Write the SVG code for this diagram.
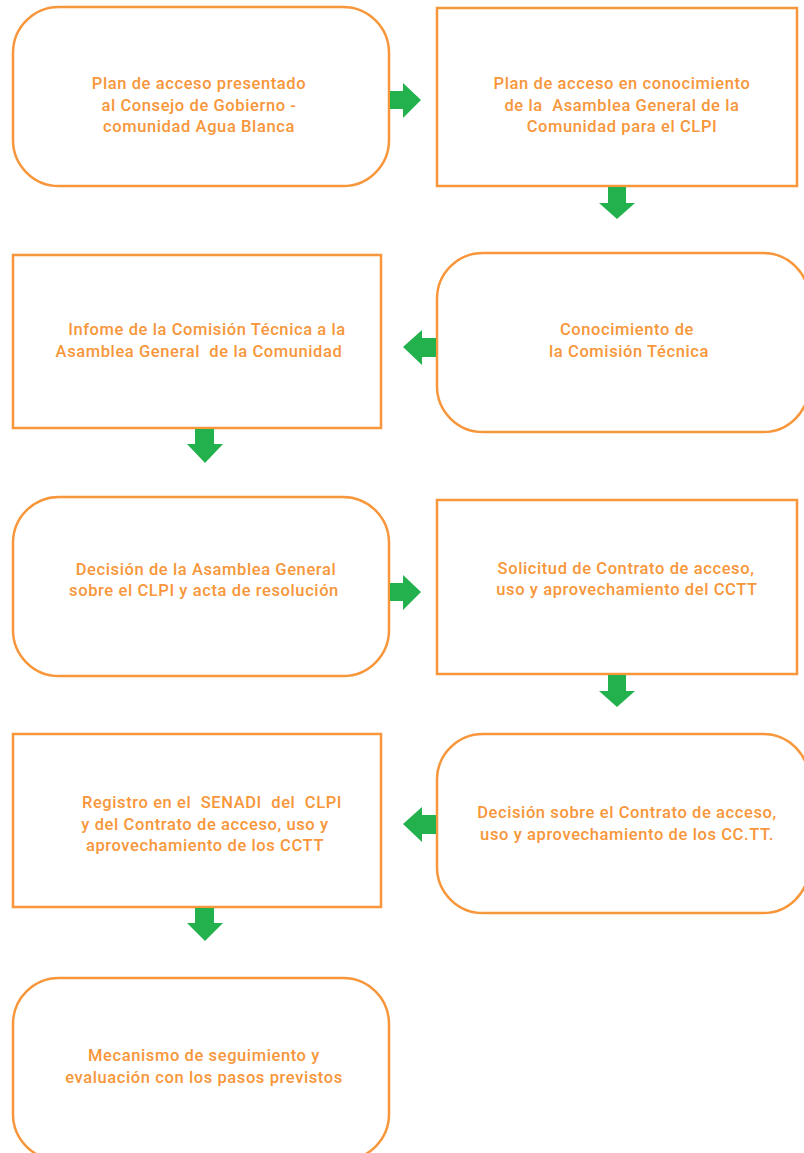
<svg xmlns="http://www.w3.org/2000/svg" width="804" height="1153" viewBox="0 0 804 1153">
<style>
.box{fill:#fff;stroke:#F7963A;stroke-width:2.5}
.t{font-family:"Roboto","Liberation Sans",sans-serif;font-weight:500;font-size:16.5px;letter-spacing:0.6px;fill:#F7963A;text-anchor:middle;white-space:pre}
.ar{fill:#22B14C}
</style>
<rect width="804" height="1153" fill="#fff"/>
<g id="n1"><rect class="box" x="13" y="7" width="376" height="179" rx="46"/>
<text class="t" x="199" y="89">Plan de acceso presentado</text>
<text class="t" x="199" y="111">al Consejo de Gobierno -</text>
<text class="t" x="199" y="132">comunidad Agua Blanca</text></g>
<g id="n2"><rect class="box" x="437" y="8" width="360" height="178"/>
<text class="t" x="622" y="89">Plan de acceso en conocimiento</text>
<text class="t" x="622" y="111">de la  Asamblea General de la</text>
<text class="t" x="622" y="132">Comunidad para el CLPI</text></g>
<g id="n3"><rect class="box" x="13" y="255" width="368" height="173"/>
<text class="t" x="207" y="335">Infome de la Comisión Técnica a la</text>
<text class="t" x="199" y="357">Asamblea General  de la Comunidad</text></g>
<g id="n4"><rect class="box" x="437" y="253" width="372" height="179" rx="46"/>
<text class="t" x="627" y="335">Conocimiento de</text>
<text class="t" x="629" y="357">la Comisión Técnica</text></g>
<g id="n5"><rect class="box" x="13" y="497" width="376" height="179" rx="46"/>
<text class="t" x="206" y="575">Decisión de la Asamblea General</text>
<text class="t" x="204" y="596">sobre el CLPI y acta de resolución</text></g>
<g id="n6"><rect class="box" x="437" y="500" width="360" height="174"/>
<text class="t" x="626" y="574">Solicitud de Contrato de acceso,</text>
<text class="t" x="627" y="595">uso y aprovechamiento del CCTT</text></g>
<g id="n7"><rect class="box" x="13" y="734" width="368" height="173"/>
<text class="t" x="212" y="808">Registro en el  SENADI  del  CLPI</text>
<text class="t" x="205" y="830">y del Contrato de acceso, uso y</text>
<text class="t" x="205" y="851">aprovechamiento de los CCTT</text></g>
<g id="n8"><rect class="box" x="437" y="734" width="372" height="179" rx="46"/>
<text class="t" x="627" y="818">Decisión sobre el Contrato de acceso,</text>
<text class="t" x="627" y="840">uso y aprovechamiento de los CC.TT.</text></g>
<g id="n9"><rect class="box" x="13" y="978" width="376" height="182" rx="46"/>
<text class="t" x="204" y="1061">Mecanismo de seguimiento y</text>
<text class="t" x="204" y="1083">evaluación con los pasos previstos</text></g>
<g id="connectors">
<polygon class="ar" points="390,91 403,91 403,83 421,100 403,118 403,109 390,109"/>
<polygon class="ar" points="608,187 626,187 626,203 635,203 617,219 599,203 608,203"/>
<polygon class="ar" points="436,338 422,338 422,330 403,347 422,365 422,357 436,357"/>
<polygon class="ar" points="195,429 214,429 214,444 223,444 205,463 187,444 195,444"/>
<polygon class="ar" points="390,583 403,583 403,575 421,592 403,610 403,601 390,601"/>
<polygon class="ar" points="608,675 626,675 626,691 635,691 617,707 599,691 608,691"/>
<polygon class="ar" points="436,815 422,815 422,807 403,824 422,842 422,834 436,834"/>
<polygon class="ar" points="195,908 214,908 214,923 223,923 205,941 187,923 195,923"/>
</g>
</svg>
